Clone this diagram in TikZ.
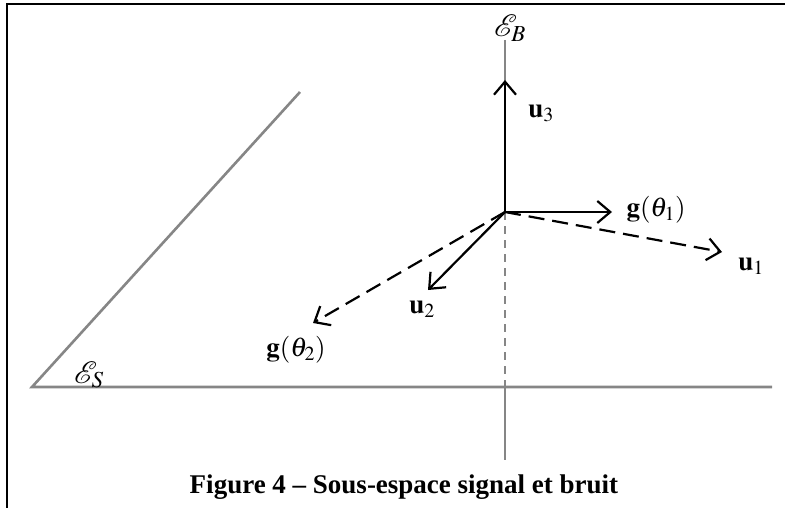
\documentclass[tikz,border=0pt]{standalone}
\usepackage{mathptmx}
\usepackage{fontspec}
\setmainfont{Liberation Serif}
\usetikzlibrary{arrows.meta}
\begin{document}
\begin{tikzpicture}[x=1pt,y=-1pt,
  frame/.style={line width=2.2pt,black},
  axis/.style={line width=2.6pt,color=gray!95},
  vec/.style={line width=2.2pt,black,-{Straight Barb[length=13pt,width=22pt,line width=2.2pt]}},
  dvec/.style={vec,dash pattern=on 16pt off 8pt},
  lab/.style={inner sep=0pt,font=\fontsize{27}{31}\selectfont},
  elab/.style={inner sep=0pt,font=\fontsize{31}{35}\selectfont},
  captext/.style={inner sep=0pt,font=\fontsize{27}{32}\selectfont\bfseries}]
\useasboundingbox (0,0) rectangle (785,508);
% frame
\coordinate (f1) at (7,508);
\coordinate (f2) at (7,4);
\coordinate (f3) at (786,4);
\draw[frame] (f1) -- (f2) -- (f3);
% axes
\coordinate (O) at (505,212);
\coordinate (Btop) at (505,40);
\coordinate (Bbot) at (505,387);
\coordinate (Bend) at (505,460);
\coordinate (S0) at (32,387);
\coordinate (S1) at (772,387);
\coordinate (D1) at (300,92);
\draw[axis] (Btop) -- (O);
\draw[axis,line width=2.2pt,dash pattern=on 8pt off 6pt] (O) -- (Bbot);
\draw[axis] (Bbot) -- (Bend);
\draw[axis] (S1) -- (S0) -- (D1);
% vectors
\coordinate (u3) at (505,80);
\coordinate (g1) at (612,212);
\coordinate (u1) at (722,252);
\coordinate (u2) at (428,290);
\coordinate (g2) at (313,323);
\draw[vec] (O) -- (u3);
\draw[vec] (O) -- (g1);
\draw[dvec] (O) -- (u1);
\draw[vec] (O) -- (u2);
\draw[dvec] (O) -- (g2);
% labels
\node[elab] (lEB) at (510,28) {$\mathcal{E}_B$};
\node[lab] (lu3) at (541,113) {$\mathbf{u}_3$};
\node[lab] (lg1) at (656,210) {$\mathbf{g}(\theta_1)$};
\node[lab] (lu1) at (751,266) {$\mathbf{u}_1$};
\node[lab] (lu2) at (422,309) {$\mathbf{u}_2$};
\node[lab] (lg2) at (296,350) {$\mathbf{g}(\theta_2)$};
\node[elab] (lES) at (89,375) {$\mathcal{E}_S$};
\node[captext,anchor=base] (caption) at (404,493) {Figure 4 – Sous-espace signal et bruit};
\end{tikzpicture}
\end{document}
